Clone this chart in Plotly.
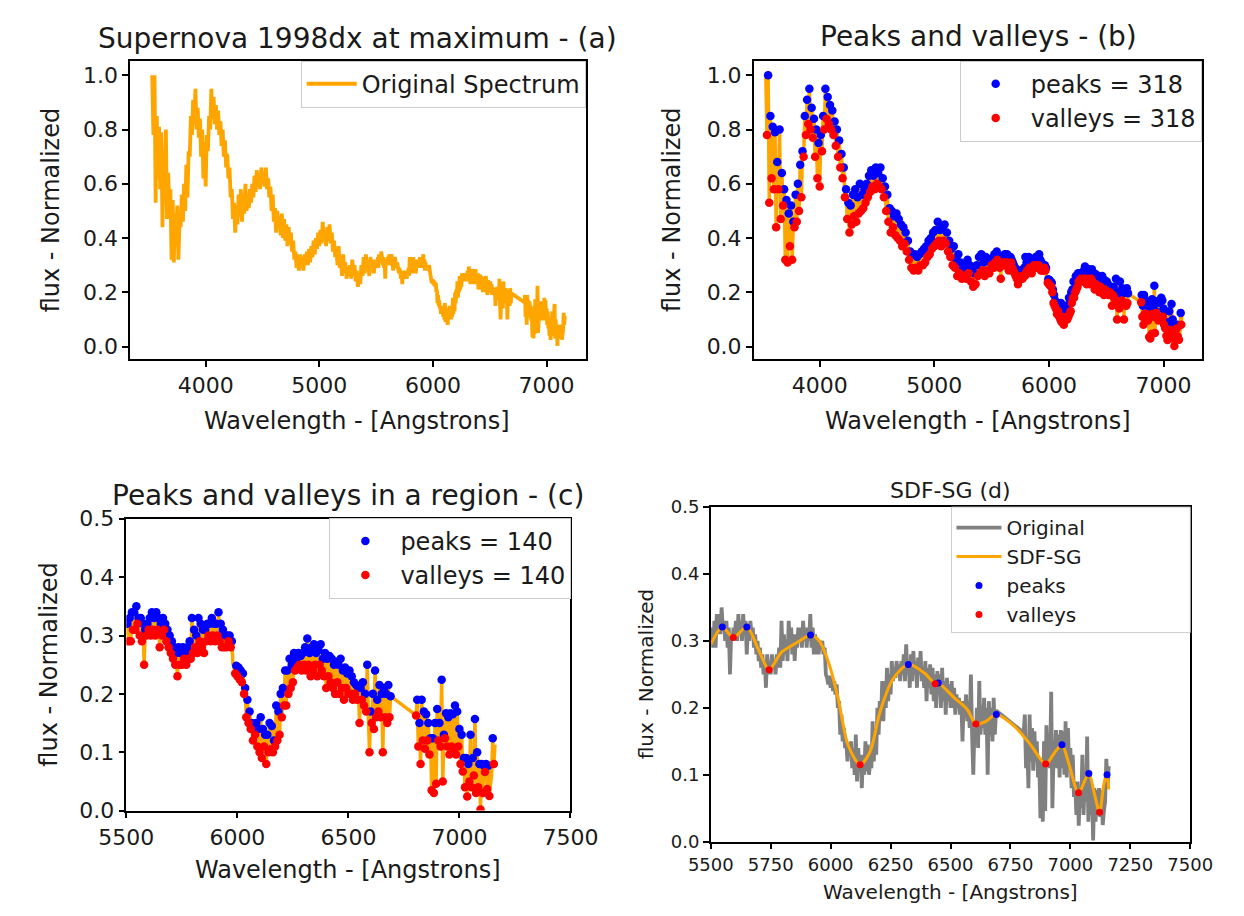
import numpy as np
import plotly.graph_objects as go

# ---------------- data ----------------
# blue part of the spectrum, 10 A sampling
wl_blue = list(range(3530, 5500, 10))
flux_blue = [
    1.00, 0.78, 1.00, 0.53, 0.85, 0.62, 0.81, 0.58, 0.79, 0.44,
    0.68, 0.58, 0.80, 0.47, 0.64, 0.52, 0.58, 0.32, 0.54, 0.31,
    0.49, 0.37, 0.52, 0.32, 0.46, 0.44, 0.56, 0.46, 0.60, 0.50,
    0.67, 0.55, 0.72, 0.70, 0.85, 0.78, 0.91, 0.82, 0.95, 0.80,
    0.88, 0.77, 0.84, 0.70, 0.80, 0.62, 0.75, 0.59, 0.78, 0.72,
    0.85, 0.80, 0.95, 0.84, 0.92, 0.82, 0.89, 0.80, 0.87, 0.78,
    0.83, 0.74, 0.80, 0.70, 0.76, 0.66, 0.71, 0.62, 0.66, 0.55,
    0.58, 0.47, 0.53, 0.42, 0.52, 0.45, 0.56, 0.48, 0.58, 0.46,
    0.55, 0.49, 0.60, 0.50, 0.56, 0.51, 0.58, 0.53, 0.60, 0.55,
    0.63, 0.57, 0.65, 0.59, 0.63, 0.58, 0.66, 0.60, 0.64, 0.59,
    0.66, 0.58, 0.62, 0.55, 0.59, 0.50, 0.56, 0.46, 0.51, 0.42,
    0.50, 0.44, 0.48, 0.41, 0.49, 0.40, 0.47, 0.39, 0.45, 0.37,
    0.44, 0.38, 0.42, 0.35, 0.39, 0.32, 0.35, 0.29, 0.34, 0.28,
    0.34, 0.29, 0.33, 0.28, 0.34, 0.30, 0.35, 0.30, 0.36, 0.31,
    0.37, 0.33, 0.39, 0.34, 0.40, 0.36, 0.42, 0.37, 0.43, 0.38,
    0.46, 0.39, 0.43, 0.37, 0.44, 0.39, 0.45, 0.38, 0.42, 0.35,
    0.39, 0.33, 0.36, 0.30, 0.37, 0.29, 0.32, 0.26, 0.34, 0.27,
    0.31, 0.25, 0.29, 0.26, 0.30, 0.25, 0.32, 0.27, 0.30, 0.24,
    0.28, 0.22, 0.27, 0.23, 0.30, 0.26, 0.33, 0.27, 0.34, 0.28,
    0.31, 0.26, 0.33, 0.28, 0.32, 0.27, 0.31,
]

# red part, 5 A sampling (first block, before the data gap)
wl_red1 = list(range(5500, 6695, 5))
flux_red1 = [
    0.30, 0.32, 0.29, 0.33, 0.29, 0.34, 0.31, 0.34, 0.31, 0.35,
    0.32, 0.33, 0.30, 0.33, 0.29, 0.32, 0.25, 0.31, 0.30, 0.32,
    0.31, 0.33, 0.30, 0.34, 0.31, 0.33, 0.30, 0.34, 0.31, 0.33,
    0.28, 0.32, 0.30, 0.33, 0.31, 0.32, 0.29, 0.31, 0.28, 0.30,
    0.27, 0.29, 0.26, 0.28, 0.25, 0.27, 0.23, 0.28, 0.25, 0.27,
    0.25, 0.28, 0.26, 0.27, 0.25, 0.28, 0.26, 0.29, 0.26, 0.33,
    0.27, 0.31, 0.28, 0.30, 0.27, 0.33, 0.29, 0.32, 0.28, 0.31,
    0.27, 0.31, 0.29, 0.32, 0.30, 0.32, 0.29, 0.33, 0.30, 0.32,
    0.29, 0.32, 0.30, 0.34, 0.29, 0.32, 0.28, 0.31, 0.28, 0.30,
    0.28, 0.30, 0.29, 0.30, 0.28, 0.29, 0.25, 0.245, 0.235, 0.248,
    0.23, 0.245, 0.225, 0.24, 0.22, 0.235, 0.20, 0.21, 0.16, 0.19,
    0.15, 0.17, 0.14, 0.15, 0.12, 0.145, 0.13, 0.15, 0.11, 0.14,
    0.10, 0.16, 0.09, 0.14, 0.11, 0.13, 0.08, 0.13, 0.10, 0.15,
    0.105, 0.145, 0.10, 0.12, 0.11, 0.18, 0.12, 0.17, 0.13, 0.20,
    0.16, 0.21, 0.18, 0.24, 0.18, 0.24, 0.20, 0.26, 0.21, 0.25,
    0.22, 0.27, 0.24, 0.26, 0.245, 0.27, 0.25, 0.265, 0.24, 0.27,
    0.25, 0.28, 0.24, 0.295, 0.25, 0.27, 0.23, 0.28, 0.24, 0.285,
    0.25, 0.27, 0.23, 0.275, 0.25, 0.285, 0.24, 0.26, 0.23, 0.27,
    0.21, 0.26, 0.23, 0.265, 0.22, 0.26, 0.21, 0.25, 0.20, 0.255,
    0.22, 0.25, 0.20, 0.26, 0.21, 0.24, 0.19, 0.245, 0.21, 0.235,
    0.20, 0.24, 0.20, 0.23, 0.19, 0.22, 0.20, 0.215, 0.19, 0.21,
    0.15, 0.21, 0.19, 0.22, 0.18, 0.20, 0.17, 0.25, 0.16, 0.10,
    0.17, 0.15, 0.20, 0.14, 0.24, 0.16, 0.19, 0.17, 0.215, 0.16,
    0.20, 0.10, 0.21, 0.16, 0.20, 0.15, 0.215, 0.16, 0.196,
]

# red part, 5 A sampling (after the data gap)
wl_red2 = list(range(6805, 7165, 5))
flux_red2 = [
    0.163, 0.19, 0.11, 0.15, 0.08, 0.19, 0.12, 0.17, 0.106, 0.165,
    0.12, 0.15, 0.096, 0.124, 0.035, 0.124, 0.03, 0.15, 0.046, 0.174,
    0.12, 0.15, 0.11, 0.224, 0.05, 0.13, 0.124, 0.167, 0.11, 0.16,
    0.096, 0.167, 0.11, 0.165, 0.10, 0.18, 0.096, 0.17, 0.11, 0.14,
    0.08, 0.13, 0.067, 0.09, 0.04, 0.09, 0.024, 0.08, 0.05, 0.13,
    0.04, 0.09, 0.06, 0.157, 0.03, 0.10, 0.04, 0.08, 0.002, 0.08,
    0.03, 0.077, 0.066, 0.08, 0.037, 0.077, 0.025, 0.046, 0.06, 0.124,
    0.08, 0.113,
]

# SDF-SG smoothed curve (panel d)
sg_wl = [5500, 5548, 5594, 5650, 5700, 5743, 5794, 5833, 5870, 5916, 5953,
         5993, 6032, 6072, 6123, 6165, 6205, 6258, 6324, 6391, 6436, 6449,
         6516, 6569, 6606, 6648, 6691, 6768, 6834, 6897, 6934, 6965, 6994,
         7034, 7077, 7100, 7122, 7140, 7153, 7160]
sg_flux = [0.295, 0.321, 0.305, 0.321, 0.286, 0.257, 0.283, 0.292, 0.300, 0.309,
           0.300, 0.266, 0.213, 0.145, 0.115, 0.135, 0.193, 0.242, 0.265, 0.252,
           0.236, 0.237, 0.215, 0.198, 0.176, 0.180, 0.190, 0.172, 0.145, 0.116,
           0.133, 0.145, 0.116, 0.073, 0.102, 0.072, 0.044, 0.087, 0.100, 0.078]

n_peaks_full = 318
n_valleys_full = 318
n_peaks_region = 140
n_valleys_region = 140
region_start = 5500

# ---------------- derived ----------------
wl = np.array(wl_blue + wl_red1 + wl_red2, dtype=float)
fl = np.array(flux_blue + flux_red1 + flux_red2, dtype=float)


def extrema(w, f):
    w = np.asarray(w, float)
    f = np.asarray(f, float)
    mid = f[1:-1]
    idx = np.arange(1, len(f) - 1)
    pk = (mid > f[:-2]) & (mid >= f[2:])
    vl = (mid < f[:-2]) & (mid <= f[2:])
    return w[idx[pk]], f[idx[pk]], w[idx[vl]], f[idx[vl]]


pw, pf, vw, vf = extrema(wl, fl)
m = wl >= region_start
rw, rf = wl[m], fl[m]
rpw, rpf, rvw, rvf = extrema(rw, rf)
spw, spf, svw, svf = extrema(sg_wl, sg_flux)

FONT = "DejaVu Sans"
TXT = "#1a1a1a"
ORANGE = "#FFA500"
W, H = 1244, 916

fig = go.Figure()

# (a)
fig.add_trace(go.Scatter(x=wl, y=fl, mode="lines", name="Original Spectrum",
                         line=dict(color=ORANGE, width=3.8), showlegend=True,
                         xaxis="x", yaxis="y", legend="legend"))
# (b)
fig.add_trace(go.Scatter(x=wl, y=fl, mode="lines", showlegend=False,
                         line=dict(color=ORANGE, width=3.5),
                         xaxis="x2", yaxis="y2", legend="legend2"))
fig.add_trace(go.Scatter(x=pw, y=pf, mode="markers", name=f"peaks = {n_peaks_full}",
                         marker=dict(color="blue", size=8.5),
                         xaxis="x2", yaxis="y2", legend="legend2"))
fig.add_trace(go.Scatter(x=vw, y=vf, mode="markers", name=f"valleys = {n_valleys_full}",
                         marker=dict(color="red", size=8.5),
                         xaxis="x2", yaxis="y2", legend="legend2"))
# (c)
fig.add_trace(go.Scatter(x=rw, y=rf, mode="lines", showlegend=False,
                         line=dict(color=ORANGE, width=3.5),
                         xaxis="x3", yaxis="y3", legend="legend3"))
fig.add_trace(go.Scatter(x=rpw, y=rpf, mode="markers", name=f"peaks = {n_peaks_region}",
                         marker=dict(color="blue", size=8.5),
                         xaxis="x3", yaxis="y3", legend="legend3"))
fig.add_trace(go.Scatter(x=rvw, y=rvf, mode="markers", name=f"valleys = {n_valleys_region}",
                         marker=dict(color="red", size=8.5),
                         xaxis="x3", yaxis="y3", legend="legend3"))
# (d)
fig.add_trace(go.Scatter(x=rw, y=rf, mode="lines", name="Original",
                         line=dict(color="#808080", width=3.8),
                         xaxis="x4", yaxis="y4", legend="legend4"))
fig.add_trace(go.Scatter(x=sg_wl, y=sg_flux, mode="lines", name="SDF-SG",
                         line=dict(color=ORANGE, width=3, shape="spline", smoothing=0.8),
                         xaxis="x4", yaxis="y4", legend="legend4"))
fig.add_trace(go.Scatter(x=spw, y=spf, mode="markers", name="peaks",
                         marker=dict(color="blue", size=7),
                         xaxis="x4", yaxis="y4", legend="legend4"))
fig.add_trace(go.Scatter(x=svw, y=svf, mode="markers", name="valleys",
                         marker=dict(color="red", size=7),
                         xaxis="x4", yaxis="y4", legend="legend4"))


def px_x(p):
    return p / W


def px_y(p):
    return 1 - p / H


def ax(fs, **kw):
    d = dict(showline=True, mirror=True, linecolor="black", linewidth=1.5,
             ticks="outside", ticklen=6, tickwidth=1.5, tickcolor="black",
             showgrid=False, zeroline=False,
             tickfont=dict(family=FONT, size=fs, color=TXT))
    d.update(kw)
    return d


ytop = [0, 0.2, 0.4, 0.6, 0.8, 1.0]
ybot = [0, 0.1, 0.2, 0.3, 0.4, 0.5]

layout = dict(
    width=W, height=H, autosize=False, showlegend=True,
    margin=dict(l=0, r=0, t=0, b=0),
    paper_bgcolor="white", plot_bgcolor="white",
    font=dict(family=FONT, color=TXT),
    xaxis=ax(22, domain=[px_x(107), px_x(584)], range=[3336, 7344],
             tickvals=[4000, 5000, 6000, 7000], anchor="y"),
    yaxis=ax(22, domain=[px_y(357), px_y(50)], range=[-0.047, 1.054],
             tickvals=ytop, tickformat=".1f", anchor="x"),
    xaxis2=ax(22, domain=[px_x(760), px_x(1229)], range=[3425, 7333],
              tickvals=[4000, 5000, 6000, 7000], anchor="y2"),
    yaxis2=ax(22, domain=[px_y(357), px_y(50)], range=[-0.047, 1.054],
              tickvals=ytop, tickformat=".1f", anchor="x2"),
    xaxis3=ax(22, domain=[px_x(103), px_x(568)], range=[5500, 7500],
              tickvals=[5500, 6000, 6500, 7000, 7500], anchor="y3"),
    yaxis3=ax(22, domain=[px_y(821), px_y(521)], range=[0, 0.5],
              tickvals=ybot, tickformat=".1f", anchor="x3"),
    xaxis4=ax(18, domain=[px_x(715), px_x(1217)], range=[5500, 7500],
              tickvals=list(range(5500, 7501, 250)), anchor="y4"),
    yaxis4=ax(18, domain=[px_y(853), px_y(509)], range=[0, 0.5],
              tickvals=ybot, tickformat=".1f", anchor="x4"),
)

leg = dict(bgcolor="rgba(255,255,255,0.85)", bordercolor="#cccccc", borderwidth=1,
           xanchor="right", yanchor="top", font=dict(family=FONT, size=24, color=TXT))
layout["legend"] = dict(leg, x=px_x(584), y=px_y(50), itemwidth=50)
layout["legend2"] = dict(leg, x=px_x(1229), y=px_y(50), itemwidth=60)
layout["legend3"] = dict(leg, x=px_x(569), y=px_y(520), itemwidth=60)
layout["legend4"] = dict(bgcolor="rgba(0,0,0,0)", borderwidth=0,
                         xanchor="left", yanchor="top",
                         x=px_x(967), y=px_y(510), itemwidth=45,
                         font=dict(family=FONT, size=20, color=TXT))

# frame of the (d) legend, which is wider than its entries in the reference
layout["shapes"] = [dict(type="rect", xref="paper", yref="paper",
                         x0=px_x(967), x1=px_x(1217), y0=px_y(638), y1=px_y(509),
                         fillcolor="rgba(255,255,255,0.85)",
                         line=dict(color="#cccccc", width=1), layer="above")]


def ann(text, x, y, size, angle=0):
    return dict(text=text, x=px_x(x), y=px_y(y), xref="paper", yref="paper",
                showarrow=False, textangle=angle, xanchor="center", yanchor="middle",
                font=dict(family=FONT, size=size, color=TXT))


xl = "Wavelength - [Angstrons]"
yl = "flux - Normalized"
layout["annotations"] = [
    ann("Supernova 1998dx at maximum - (a)", 345, 27, 28),
    ann("Peaks and valleys - (b)", 995, 25, 28),
    ann("Peaks and valleys in a region - (c)", 335, 497, 28),
    ann("SDF-SG (d)", 966, 492, 22),
    ann(xl, 345, 420, 24),
    ann(xl, 995, 420, 24),
    ann(xl, 335, 882, 24),
    ann(xl, 966, 905, 20),
    ann(yl, 25, 203, 24, -90),
    ann(yl, 675, 203, 24, -90),
    ann(yl, 22, 671, 24, -90),
    ann(yl, 648, 681, 20, -90),
]

fig.update_layout(**layout)
fig.write_html("out.html", config={"displayModeBar": False},
               post_script="document.body.style.margin='0';")
